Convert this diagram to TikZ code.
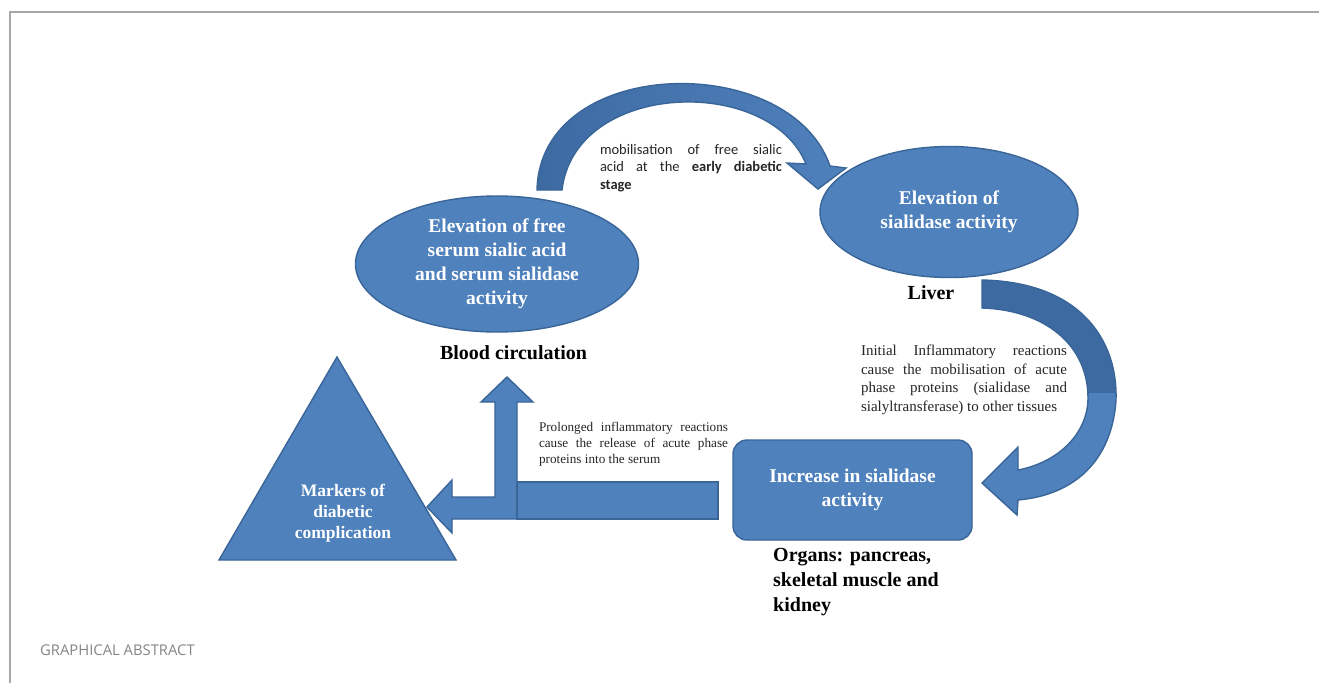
\documentclass[tikz,border=0pt]{standalone}
\usepackage{fontspec}
\setmainfont{Liberation Serif}
\newfontfamily\calibfont{Carlito}
\newfontfamily\opensansfont{Open Sans}
\usetikzlibrary{shapes.geometric}
\definecolor{shapeblue}{HTML}{4F81BD}
\definecolor{shapeedge}{HTML}{3A6598}
\definecolor{shapedark}{HTML}{3E6AA2}
\definecolor{framegray}{HTML}{A6A6A6}
\definecolor{captiongray}{HTML}{858585}
\begin{document}
\begin{tikzpicture}[x=1pt,y=-1pt,
  blueshape/.style={fill=shapeblue, draw=shapeedge, line width=1.4pt},
  edgeonly/.style={draw=shapeedge, line width=1.4pt},
  whitetext/.style={text=white, font=\bfseries\fontsize{19.5}{24}\selectfont, align=center, inner sep=0pt},
  smallwhite/.style={text=white, font=\bfseries\fontsize{17.5}{21}\selectfont, align=center, inner sep=0pt},
  labeltext/.style={text=black, font=\bfseries\fontsize{20}{25}\selectfont, inner sep=0pt},
  notetext/.style={text=black!85, inner sep=0pt, align=justify}
]
\useasboundingbox (0,0) rectangle (1319,683);
\fill[white] (0,0) rectangle (1319,683);
\draw[framegray, line width=2pt] (1319,12) -- (10,12) -- (10,683);
\node[anchor=west, inner sep=0pt, text=captiongray, font=\opensansfont\fontsize{14.8}{17}\selectfont] (cap) at (40,650) {GRAPHICAL ABSTRACT};

% top curved arrow
\shadedraw[left color=shapedark, right color=shapeblue, draw=shapeedge, line width=1.4pt]
  (537,190) .. controls (540,55) and (790,50) .. (830,166) -- (846,168) -- (818,189) -- (787,163)
  -- (806,164) .. controls (770,75) and (575,80) .. (562,190) -- cycle;

% right curved arrow
\def\rightarc{(982,280) .. controls (1080,282) and (1118,340) .. (1116,400) .. controls (1112,460) and (1075,495) .. (1018,500) -- (1017,515) -- (982,483) -- (1018,447) -- (1018,470) .. controls (1060,462) and (1088,432) .. (1088,398) .. controls (1088,345) and (1045,310) .. (982,308) -- cycle}
\fill[shapeblue] \rightarc;
\begin{scope}
  \clip (960,270) rectangle (1130,392);
  \fill[shapedark] \rightarc;
\end{scope}
\draw[edgeonly] \rightarc;

% bottom arrows
\path[blueshape] (517,519) -- (517,402) -- (533,402) -- (507,377) -- (481,402) -- (495,402)
  -- (495,497) -- (452,497) -- (452,480) -- (427,507) -- (452,533) -- (452,519) -- cycle;
\path[blueshape] (517,482) rectangle (718,519);

% triangle
\path[blueshape] (337,357) -- (456,560) -- (219,560) -- cycle;
\node[smallwhite] (tri) at (343,513) {Markers of\\diabetic\\complication};

% ellipses and box
\node[ellipse, blueshape, minimum width=283, minimum height=136] (e1) at (497,264) {};
\node[whitetext] (t1) at (e1) {Elevation of free\\serum sialic acid\\and serum sialidase\\activity};
\node[ellipse, blueshape, minimum width=258, minimum height=131] (e2) at (949,212) {};
\node[whitetext] (t2) at (e2) {Elevation of\\sialidase activity};
\node[rectangle, rounded corners=14pt, blueshape, minimum width=239, minimum height=100] (box) at (852.5,490) {};
\node[whitetext] (t3) at (box) {Increase in sialidase\\activity};

% labels
\node[labeltext] (blood) at (513.5,353) {Blood circulation};
\node[labeltext] (liver) at (931,293) {Liver};
\node[labeltext, anchor=west, align=left] (organs) at (773,582) {Organs: pancreas,\\skeletal muscle and\\kidney};

% notes
\node[notetext, text width=182pt, font=\calibfont\fontsize{14.5}{17.5}\selectfont] (n1) at (691,168)
  {mobilisation of free sialic\linebreak acid at the \textbf{early diabetic}\linebreak \textbf{stage}};
\node[notetext, text width=206pt, font=\fontsize{15}{18.5}\selectfont] (n2) at (964,380)
  {Initial Inflammatory reactions\linebreak cause the mobilisation of acute\linebreak phase proteins (sialidase and\linebreak sialyltransferase) to other tissues};
\node[notetext, text width=189pt, font=\fontsize{13.2}{16.2}\selectfont] (n3) at (633.5,444)
  {Prolonged inflammatory reactions\linebreak cause the release of acute phase\linebreak proteins into the serum};
\end{tikzpicture}
\end{document}
